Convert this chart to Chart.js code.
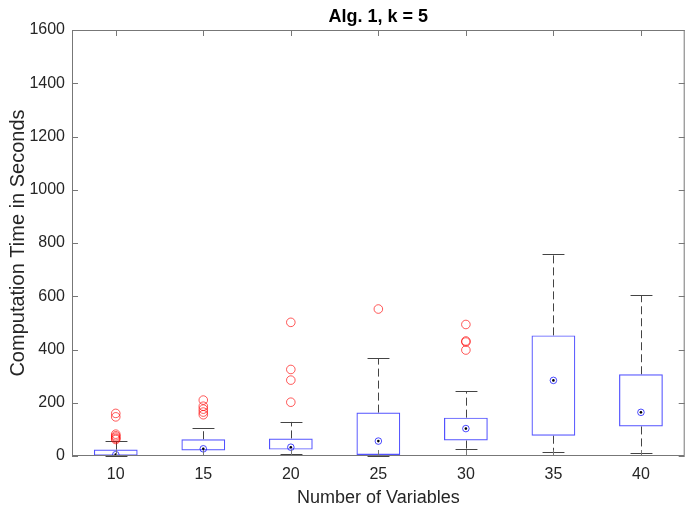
<!DOCTYPE html>
<html lang="en">
<head>
    <meta charset="UTF-8">
    <title>Alg. 1, k = 5</title>
    <style>
        html, body {
            margin: 0;
            padding: 0;
            overflow: hidden;
            background: #ffffff;
        }
    </style>
</head>
<body>
    <canvas id="boxChart" width="690" height="514"></canvas>
    <script src="https://cdn.jsdelivr.net/npm/chart.js"></script>
    <script>
        // values
        const categories = ['10', '15', '20', '25', '30', '35', '40'];
        const q1 = [1, 21, 24, 4, 58, 76, 111];
        const q3 = [24, 63, 66, 163, 144, 453, 307];
        const medians = [5, 27, 33, 56, 103, 284, 164];
        const lowerWhisker = [0, 5, 7, 0, 27, 16, 12];
        const upperWhisker = [55, 105, 128, 368, 244, 759, 603];
        const outliers = [
            [160, 147, 82, 76, 71, 66, 62],
            [210, 187, 176, 165, 155],
            [502, 325, 285, 202],
            [552],
            [494, 432, 428, 398],
            [],
            []
        ];
        const yTicks = [0, 200, 400, 600, 800, 1000, 1200, 1400, 1600];

        const textColor = '#262626';
        const frameColor = '#777777';
        const fontFamily = '"Liberation Sans", Arial, Helvetica, sans-serif';

        const outlierPoints = [];
        outliers.forEach((list, i) => {
            list.forEach(v => outlierPoints.push({ x: categories[i], y: v }));
        });
        const medianPoints = medians.map((v, i) => ({ x: categories[i], y: v }));

        // whiskers, caps, frame and inward tick marks
        const boxExtras = {
            id: 'boxExtras',
            beforeDatasetsDraw(chart) {
                const { ctx, scales: { x, y } } = chart;
                const cap = x.width / categories.length / 4;
                ctx.save();
                ctx.strokeStyle = '#444444';
                ctx.lineWidth = 1;
                categories.forEach((c, i) => {
                    const cx = Math.round(x.getPixelForValue(i)) + 0.5;
                    const segs = [[q3[i], upperWhisker[i]], [q1[i], lowerWhisker[i]]];
                    segs.forEach(([from, to]) => {
                        ctx.setLineDash([8, 4]);
                        ctx.beginPath();
                        ctx.moveTo(cx, y.getPixelForValue(from));
                        ctx.lineTo(cx, y.getPixelForValue(to));
                        ctx.stroke();
                        ctx.setLineDash([]);
                        const ty = Math.round(y.getPixelForValue(to)) + 0.5;
                        ctx.beginPath();
                        ctx.moveTo(cx - cap / 2, ty);
                        ctx.lineTo(cx + cap / 2, ty);
                        ctx.stroke();
                    });
                });
                ctx.restore();
            },
            afterDraw(chart) {
                const { ctx, chartArea: a, scales: { x, y } } = chart;
                const tl = 6;
                ctx.save();
                ctx.strokeStyle = frameColor;
                ctx.lineWidth = 1;
                ctx.strokeRect(a.left + 0.5, a.top + 0.5, a.right - a.left - 1, a.bottom - a.top - 1);
                ctx.beginPath();
                yTicks.forEach(v => {
                    const py = Math.round(y.getPixelForValue(v)) + 0.5;
                    ctx.moveTo(a.left, py);
                    ctx.lineTo(a.left + tl, py);
                    ctx.moveTo(a.right, py);
                    ctx.lineTo(a.right - tl, py);
                });
                categories.forEach((c, i) => {
                    const px = Math.round(x.getPixelForValue(i)) + 0.5;
                    ctx.moveTo(px, a.bottom);
                    ctx.lineTo(px, a.bottom - tl);
                    ctx.moveTo(px, a.top);
                    ctx.lineTo(px, a.top + tl);
                });
                ctx.stroke();
                ctx.restore();
            }
        };

        new Chart(document.getElementById('boxChart'), {
            type: 'bar',
            data: {
                labels: categories,
                datasets: [
                    {
                        type: 'line',
                        label: 'Outliers',
                        data: outlierPoints,
                        showLine: false,
                        pointStyle: 'circle',
                        pointRadius: 4.3,
                        pointBorderWidth: 1,
                        pointBorderColor: 'rgba(255, 0, 0, 0.65)',
                        pointBackgroundColor: 'rgba(0, 0, 0, 0)',
                        order: 1
                    },
                    {
                        type: 'line',
                        label: 'Median',
                        data: medianPoints,
                        showLine: false,
                        pointRadius: 3.3,
                        pointBorderWidth: 1,
                        pointBorderColor: 'rgba(0, 0, 255, 0.7)',
                        pointBackgroundColor: 'rgba(0, 0, 0, 0)',
                        order: 2
                    },
                    {
                        type: 'line',
                        label: 'Median dot',
                        data: medianPoints,
                        showLine: false,
                        pointRadius: 1.3,
                        pointBorderWidth: 0,
                        pointBackgroundColor: '#000000',
                        order: 0
                    },
                    {
                        label: 'Box',
                        data: q1.map((v, i) => [v, q3[i]]),
                        backgroundColor: 'rgba(0, 0, 0, 0)',
                        borderColor: 'rgba(0, 0, 255, 0.68)',
                        borderWidth: 1.2,
                        borderSkipped: false,
                        barPercentage: 0.5,
                        categoryPercentage: 1,
                        order: 3
                    }
                ]
            },
            options: {
                responsive: false,
                animation: false,
                layout: { padding: { top: 0, right: 2, bottom: 0, left: 0 } },
                plugins: {
                    legend: { display: false },
                    tooltip: { enabled: false },
                    title: {
                        display: true,
                        text: 'Alg. 1, k = 5',
                        fullSize: false,
                        color: '#000000',
                        font: { family: fontFamily, size: 18, weight: 'bold', lineHeight: 1.2 },
                        padding: { top: 6.2, bottom: 2.2 }
                    }
                },
                scales: {
                    x: {
                        offset: true,
                        grid: { display: false, drawTicks: false },
                        border: { display: false },
                        ticks: {
                            color: textColor,
                            padding: 9,
                            font: { family: fontFamily, size: 16 }
                        },
                        title: {
                            display: true,
                            text: 'Number of Variables',
                            color: textColor,
                            font: { family: fontFamily, size: 18 },
                            padding: { top: 0, bottom: 5 }
                        },
                        afterFit(scale) { scale.height = 58; }
                    },
                    y: {
                        min: 0,
                        max: 1600,
                        grid: { display: false, drawTicks: false },
                        border: { display: false },
                        afterBuildTicks(scale) {
                            scale.ticks = yTicks.map(v => ({ value: v }));
                        },
                        ticks: {
                            color: textColor,
                            padding: 7,
                            font: { family: fontFamily, size: 16 },
                            callback: v => String(v)
                        },
                        title: {
                            display: true,
                            text: 'Computation Time in Seconds',
                            color: textColor,
                            font: { family: fontFamily, size: 20 },
                            padding: { top: 6, bottom: 0 }
                        },
                        afterFit(scale) { scale.width = 72; }
                    }
                }
            },
            plugins: [boxExtras]
        });
    </script>
</body>
</html>
